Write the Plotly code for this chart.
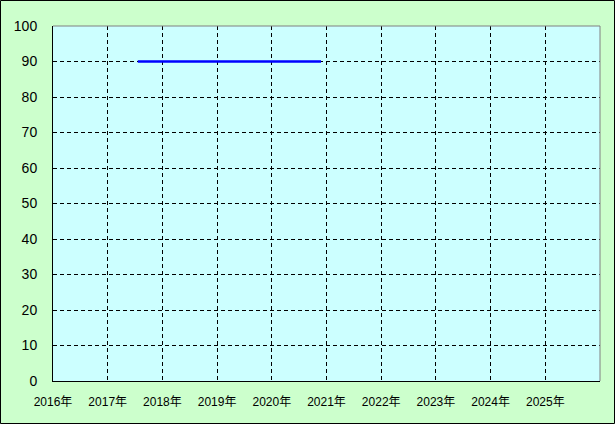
import plotly.graph_objects as go

# Data
line_x = [2017.55, 2020.9]
line_y = [90, 90]
year_ticks = [2016, 2017, 2018, 2019, 2020, 2021, 2022, 2023, 2024, 2025]
year_labels = [f"{y}年" for y in year_ticks]
y_ticks = [0, 10, 20, 30, 40, 50, 60, 70, 80, 90, 100]

W, H = 615, 424
ml, mr, mt, mb = 53, 15, 26, 43
pw, ph = W - ml - mr, H - mt - mb

fig = go.Figure()
fig.add_trace(go.Scatter(x=line_x, y=line_y, mode="lines",
                         line=dict(color="#0000FF", width=2.5), hoverinfo="skip"))

font_family = "Liberation Sans, Noto Sans CJK JP, sans-serif"
fig.update_layout(
    width=W, height=H,
    margin=dict(l=ml, r=mr, t=mt, b=mb, pad=0),
    paper_bgcolor="#CCFFCC",
    plot_bgcolor="#CCFFFF",
    showlegend=False,
    font=dict(family=font_family, color="#000000", size=12),
    xaxis=dict(range=[2016, 2026], tickvals=year_ticks, ticktext=year_labels,
               showgrid=True, gridcolor="#000000", gridwidth=1, griddash="4px,3px",
               showline=True, linecolor="#000000", linewidth=1,
               ticks="", ticklabelstandoff=10, zeroline=False,
               tickfont=dict(size=12, family=font_family)),
    yaxis=dict(range=[0, 100], tickvals=y_ticks,
               showgrid=True, gridcolor="#000000", gridwidth=1, griddash="4px,3px",
               showline=True, linecolor="#000000", linewidth=1,
               ticks="", ticklabelstandoff=12, zeroline=False,
               tickfont=dict(size=14, family=font_family)),
    shapes=[
        dict(type="line", xref="paper", yref="paper", x0=0, x1=1, y0=1, y1=1,
             line=dict(color="#808080", width=1)),
        dict(type="line", xref="paper", yref="paper", x0=1, x1=1, y0=0, y1=1,
             line=dict(color="#808080", width=1)),
        dict(type="rect", xref="paper", yref="paper",
             x0=-(ml - 0.5) / pw, x1=1 + (mr - 0.5) / pw,
             y0=-(mb - 0.5) / ph, y1=1 + (mt - 0.5) / ph,
             line=dict(color="#000000", width=1), layer="above"),
    ],
)

fig.write_html("out.html", config={"displayModeBar": False},
               post_script="document.body.style.margin='0';document.body.style.padding='0';")
